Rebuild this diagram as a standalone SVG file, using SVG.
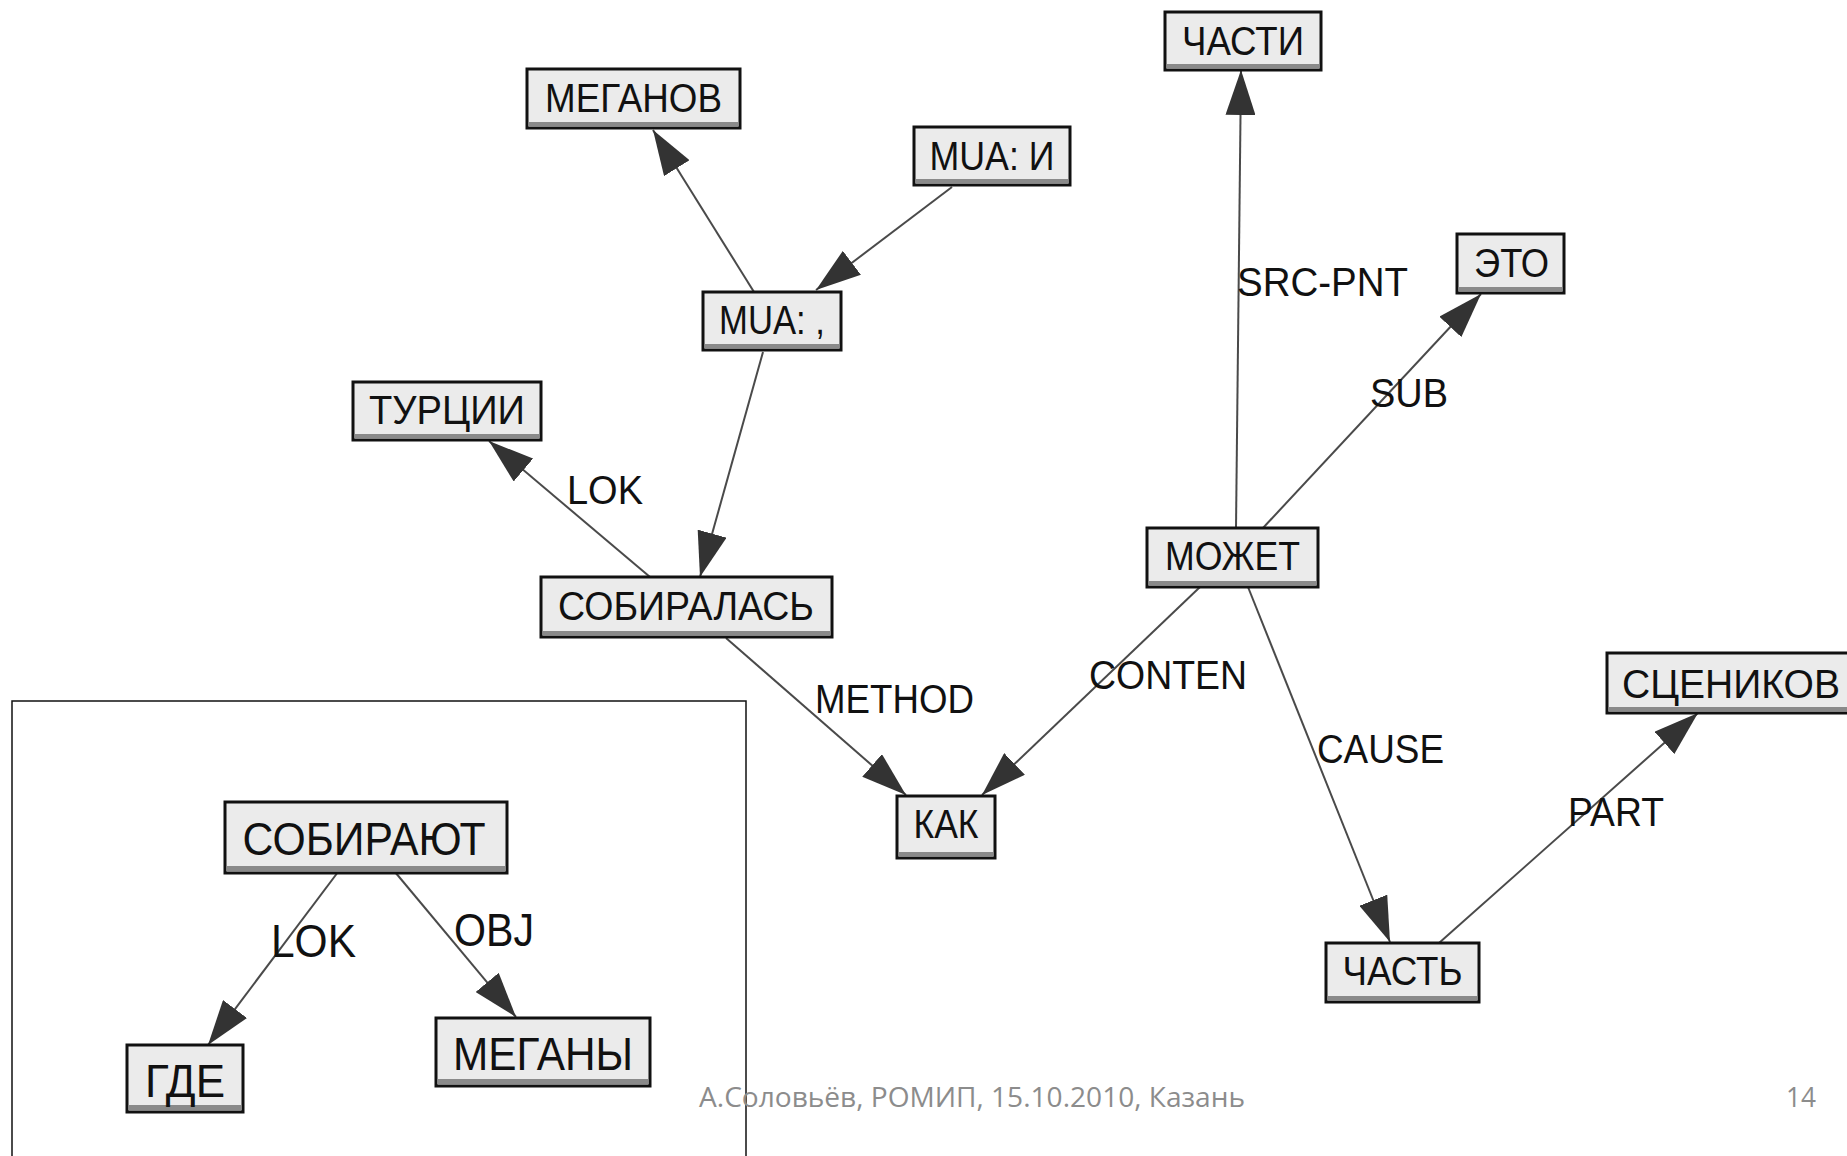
<svg xmlns="http://www.w3.org/2000/svg" width="1847" height="1156" viewBox="0 0 1847 1156">
<defs>
<style>
.box{fill:#ebebeb;stroke:#111;stroke-width:3}
.sh{fill:#8a8a8a}
.t{font-family:"Liberation Sans",Arial,sans-serif;font-size:41px;fill:#111;text-anchor:middle}
.ti{font-family:"Liberation Sans",Arial,sans-serif;font-size:46px;fill:#111;text-anchor:middle}
.lb{font-family:"Liberation Sans",Arial,sans-serif;font-size:41px;fill:#111}
.lbi{font-family:"Liberation Sans",Arial,sans-serif;font-size:46px;fill:#111}
.e{stroke:#4a4a4a;stroke-width:2;fill:none;marker-end:url(#ah)}
.foot{font-family:"Open Sans","Noto Sans",sans-serif;font-size:28px;fill:#8c8c8c}
</style>
<marker id="ah" markerUnits="userSpaceOnUse" markerWidth="46" markerHeight="30" refX="45" refY="15" orient="auto">
<path d="M0,0 L45,15 L0,30 Z" fill="#333"/>
</marker>
</defs>
<rect width="1847" height="1156" fill="#fff"/>
<path d="M12,1156 V701 H746 V1156" fill="none" stroke="#111" stroke-width="1.5"/>
<g id="connectors">
<line class="e" x1="754" y1="292" x2="653" y2="130"/>
<line class="e" x1="952" y1="187" x2="816" y2="290"/>
<line class="e" x1="763" y1="352" x2="700" y2="577"/>
<line class="e" x1="650" y1="577" x2="489" y2="441"/>
<line class="e" x1="726" y1="638" x2="906" y2="795"/>
<line class="e" x1="1200" y1="587" x2="982" y2="795"/>
<line class="e" x1="1236" y1="528" x2="1241" y2="70"/>
<line class="e" x1="1263" y1="528" x2="1481" y2="294"/>
<line class="e" x1="1248" y1="587" x2="1390" y2="942"/>
<line class="e" x1="1439" y1="943" x2="1698" y2="713"/>
<line class="e" x1="338" y1="872" x2="208" y2="1045"/>
<line class="e" x1="395" y1="872" x2="516" y2="1017"/>
<text class="lb" x="1237" y="296" textLength="171" lengthAdjust="spacingAndGlyphs">SRC-PNT</text>
<text class="lb" x="1370" y="407" textLength="78" lengthAdjust="spacingAndGlyphs">SUB</text>
<text class="lb" x="567" y="504" textLength="76" lengthAdjust="spacingAndGlyphs">LOK</text>
<text class="lb" x="815" y="713" textLength="159" lengthAdjust="spacingAndGlyphs">METHOD</text>
<text class="lb" x="1089" y="689" textLength="158" lengthAdjust="spacingAndGlyphs">CONTEN</text>
<text class="lb" x="1317" y="763" textLength="127" lengthAdjust="spacingAndGlyphs">CAUSE</text>
<text class="lb" x="1568" y="826" textLength="96" lengthAdjust="spacingAndGlyphs">PART</text>
<text class="lbi" x="271" y="957" textLength="85" lengthAdjust="spacingAndGlyphs">LOK</text>
<text class="lbi" x="454" y="946" textLength="80" lengthAdjust="spacingAndGlyphs">OBJ</text>
</g>
<g id="n-chasti"><rect class="box" x="1165" y="12" width="156" height="58"/><rect class="sh" x="1166.5" y="64" width="153" height="4.5"/><text class="t" x="1243" y="55" textLength="122" lengthAdjust="spacingAndGlyphs">ЧАСТИ</text></g>
<g id="n-meganov"><rect class="box" x="527" y="69" width="213" height="59"/><rect class="sh" x="528.5" y="122" width="210" height="4.5"/><text class="t" x="633.5" y="112" textLength="177" lengthAdjust="spacingAndGlyphs">МЕГАНОВ</text></g>
<g id="n-mua-i"><rect class="box" x="914" y="127" width="156" height="58"/><rect class="sh" x="915.5" y="179" width="153" height="4.5"/><text class="t" x="992" y="170" textLength="125" lengthAdjust="spacingAndGlyphs">MUA: И</text></g>
<g id="n-eto"><rect class="box" x="1457" y="234" width="107" height="59"/><rect class="sh" x="1458.5" y="287" width="104" height="4.5"/><text class="t" x="1511.5" y="277" textLength="75" lengthAdjust="spacingAndGlyphs">ЭТО</text></g>
<g id="n-mua-comma"><rect class="box" x="703" y="292" width="138" height="58"/><rect class="sh" x="704.5" y="344" width="135" height="4.5"/><text class="t" x="772" y="334" textLength="106" lengthAdjust="spacingAndGlyphs">MUA: ,</text></g>
<g id="n-turtsii"><rect class="box" x="353" y="382" width="188" height="58"/><rect class="sh" x="354.5" y="434" width="185" height="4.5"/><text class="t" x="447" y="424" textLength="156" lengthAdjust="spacingAndGlyphs">ТУРЦИИ</text></g>
<g id="n-mozhet"><rect class="box" x="1147" y="528" width="171" height="59"/><rect class="sh" x="1148.5" y="581" width="168" height="4.5"/><text class="t" x="1232.5" y="570" textLength="135" lengthAdjust="spacingAndGlyphs">МОЖЕТ</text></g>
<g id="n-sobiralas"><rect class="box" x="541" y="577" width="291" height="60"/><rect class="sh" x="542.5" y="631" width="288" height="4.5"/><text class="t" x="686" y="620" textLength="256" lengthAdjust="spacingAndGlyphs">СОБИРАЛАСЬ</text></g>
<g id="n-stsenikov"><rect class="box" x="1607" y="653" width="262" height="60"/><rect class="sh" x="1608.5" y="707" width="259" height="4.5"/><text class="t" x="1731" y="698" textLength="218" lengthAdjust="spacingAndGlyphs">СЦЕНИКОВ</text></g>
<g id="n-kak"><rect class="box" x="897" y="796" width="98" height="62"/><rect class="sh" x="898.5" y="852" width="95" height="4.5"/><text class="t" x="946" y="838" textLength="65" lengthAdjust="spacingAndGlyphs">КАК</text></g>
<g id="n-chast"><rect class="box" x="1326" y="943" width="153" height="59"/><rect class="sh" x="1327.5" y="996" width="150" height="4.5"/><text class="t" x="1402.5" y="985" textLength="120" lengthAdjust="spacingAndGlyphs">ЧАСТЬ</text></g>
<g id="n-sobirayut"><rect class="box" x="225" y="802" width="282" height="71"/><rect class="sh" x="226.5" y="866" width="279" height="5"/><text class="ti" x="364" y="855" textLength="243" lengthAdjust="spacingAndGlyphs">СОБИРАЮТ</text></g>
<g id="n-megany"><rect class="box" x="436" y="1018" width="214" height="68"/><rect class="sh" x="437.5" y="1079" width="211" height="5"/><text class="ti" x="543" y="1070" textLength="180" lengthAdjust="spacingAndGlyphs">МЕГАНЫ</text></g>
<g id="n-gde"><rect class="box" x="127" y="1045" width="116" height="67"/><rect class="sh" x="128.5" y="1105" width="113" height="5"/><text class="ti" x="185" y="1097" textLength="80" lengthAdjust="spacingAndGlyphs">ГДЕ</text></g>
<text class="foot" x="699" y="1107" textLength="546" lengthAdjust="spacingAndGlyphs">А.Соловьёв, РОМИП, 15.10.2010, Казань</text>
<text class="foot" x="1786" y="1107" textLength="30" lengthAdjust="spacingAndGlyphs">14</text>
</svg>
